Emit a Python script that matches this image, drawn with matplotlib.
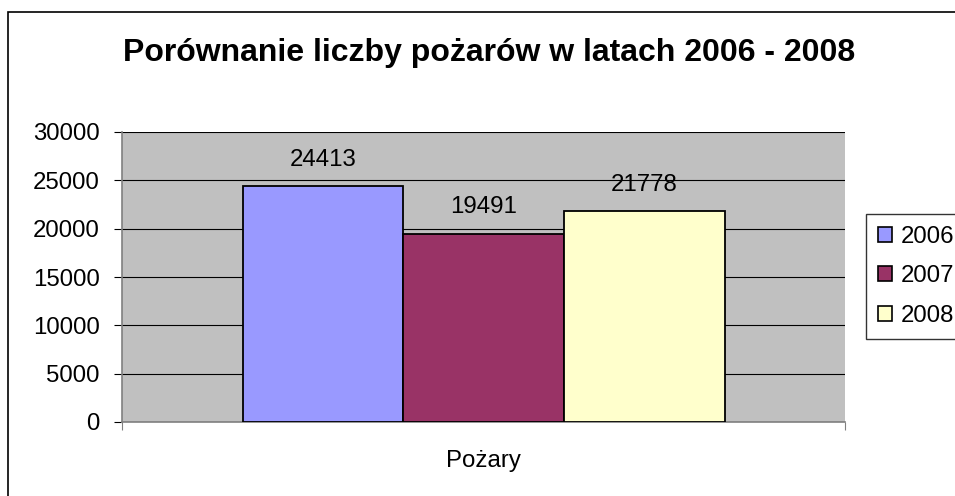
import matplotlib

matplotlib.use("Agg")
import matplotlib.pyplot as plt
from matplotlib.patches import Patch, Rectangle

plt.rcParams["font.family"] = ["Liberation Sans", "DejaVu Sans"]

TITLE = "Porównanie liczby pożarów w latach 2006 - 2008"
CATEGORY = "Pożary"
YEARS = ["2006", "2007", "2008"]
FIRES = [24413, 19491, 21778]
COLORS = ["#9999FF", "#993366", "#FFFFCC"]
Y_TICKS = [0, 5000, 10000, 15000, 20000, 25000, 30000]

FS = 17.3
W, H = 955, 496
fig = plt.figure(figsize=(W / 100, H / 100), dpi=100)

# outer chart border (cut off on the right and bottom like the original)
fig.patches.append(Rectangle((8 / W, -0.05), 1.1, 1 - 12 / H + 0.05,
                             transform=fig.transFigure, fill=False,
                             edgecolor="black", linewidth=1.2))

ax = fig.add_axes([122 / W, 74 / H, 723 / W, 290 / H])
ax.set_facecolor("#C0C0C0")

bar_w = (2 / 3) / len(FIRES)
start = 0.5 - bar_w * len(FIRES) / 2
for i, (val, col) in enumerate(zip(FIRES, COLORS)):
    x = start + bar_w * (i + 0.5)
    ax.bar(x, val, width=bar_w, color=col, edgecolor="black", linewidth=1.3, zorder=3)
    ax.annotate(str(val), (x, val), xytext=(0, 14.5), textcoords="offset points",
                ha="center", va="baseline", fontsize=FS)

ax.set_xlim(0, 1)
ax.set_ylim(0, 30000)
ax.set_yticks(Y_TICKS)
ax.yaxis.grid(True, color="black", linewidth=0.8, zorder=1)
ax.set_axisbelow(True)
ax.tick_params(axis="y", labelsize=FS, length=6, width=0.8, pad=10, color="black")

ax.set_xticks([0.5])
ax.set_xticklabels([CATEGORY])
ax.set_xticks([0, 1], minor=True)
ax.tick_params(axis="x", which="major", length=0, labelsize=FS, pad=20)
ax.tick_params(axis="x", which="minor", length=6, width=0.8, color="#808080")

for side in ["top", "right"]:
    ax.spines[side].set_visible(False)
ax.spines["left"].set_color("#808080")
ax.spines["bottom"].set_color("#808080")
ax.spines["left"].set_linewidth(1.2)
ax.spines["bottom"].set_linewidth(1.2)

fig.text(489 / W, 1 - 53 / H, TITLE, ha="center", va="center",
         fontsize=23, fontweight="bold")

handles = [Patch(facecolor=c, edgecolor="black", linewidth=1.2) for c in COLORS]
leg = fig.legend(handles, YEARS, loc="upper left",
                 bbox_to_anchor=(866 / W, 1 - 214 / H), fontsize=FS,
                 frameon=True, fancybox=False, edgecolor="black",
                 handlelength=0.6, handleheight=0.6, handletextpad=0.35,
                 labelspacing=0.72, borderpad=0.5, borderaxespad=0)
leg.get_frame().set_linewidth(1.0)

fig.savefig("out.png", dpi=100)
